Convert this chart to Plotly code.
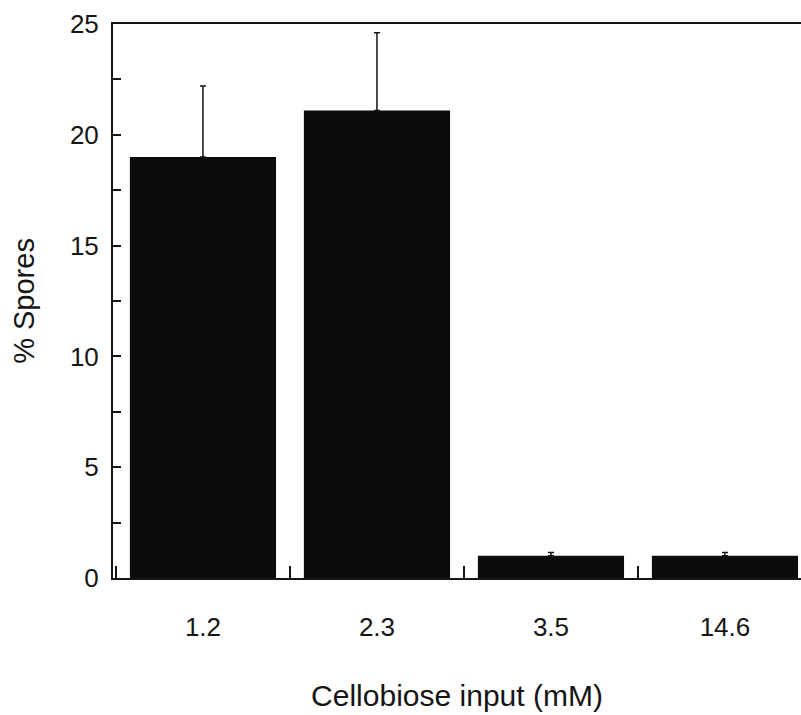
import plotly.graph_objects as go

categories = ["1.2", "2.3", "3.5", "14.6"]
spores = [19.0, 21.1, 1.0, 1.0]
spores_err = [3.2, 3.5, 0.15, 0.15]
y_ticks = [0, 5, 10, 15, 20, 25]

FONT = "Liberation Sans, Arial, sans-serif"
INK = "#151515"

fig = go.Figure()
fig.add_trace(go.Bar(
    x=categories,
    y=spores,
    marker=dict(color="#0b0b0b", line=dict(width=0)),
    error_y=dict(type="data", array=spores_err, arrayminus=[0] * len(spores_err),
                 symmetric=False, color=INK, thickness=1.5, width=3),
    showlegend=False,
))

fig.update_layout(
    width=801, height=715,
    margin=dict(l=113, r=0, t=24, b=137),
    paper_bgcolor="white", plot_bgcolor="white",
    bargap=0.16,
    font=dict(family=FONT, color=INK),
    xaxis=dict(
        type="category",
        range=[-0.517, 3.437],
        automargin=False,
        showline=True, linecolor=INK, linewidth=2, mirror=True,
        showgrid=False, zeroline=False,
        ticks="inside", tickson="boundaries", ticklen=12, tickwidth=1.5, tickcolor=INK,
        tickfont=dict(size=26, family=FONT, color=INK),
        ticklabelstandoff=25,
        title=dict(text="Cellobiose input (mM)", font=dict(size=30, family=FONT, color=INK), standoff=44),
    ),
    yaxis=dict(
        range=[0, 25],
        tickvals=y_ticks,
        automargin=False,
        showline=True, linecolor=INK, linewidth=2, mirror=False,
        showgrid=False, zeroline=False,
        ticks="inside", ticklen=8, tickwidth=1.5, tickcolor=INK,
        minor=dict(dtick=2.5, ticks="inside", ticklen=8, tickwidth=1.5, tickcolor=INK, showgrid=False),
        tickfont=dict(size=26, family=FONT, color=INK),
        ticklabelstandoff=7,
        title=dict(text="% Spores", font=dict(size=29, family=FONT, color=INK), standoff=27),
    ),
)

fig.write_html("out.html", config={"displayModeBar": False},
               post_script="document.body.style.margin='0';")
